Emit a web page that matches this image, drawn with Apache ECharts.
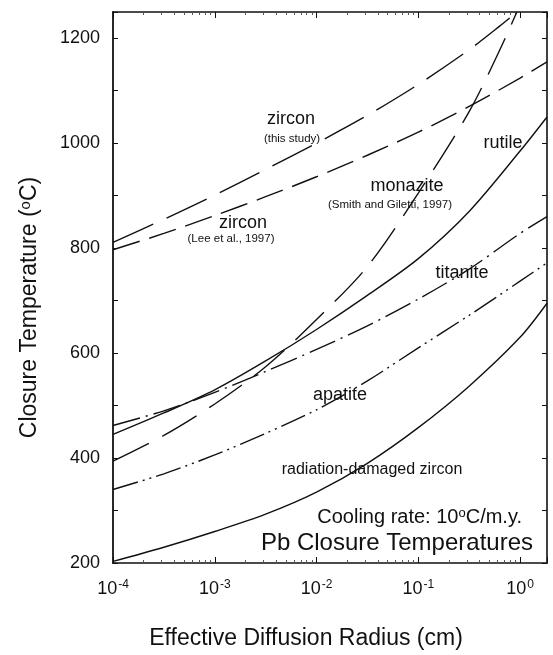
<!DOCTYPE html>
<html>
<head>
<meta charset="utf-8">
<script src="https://cdn.jsdelivr.net/npm/echarts@6/dist/echarts.min.js"></script>
<style>
html,body{margin:0;padding:0;background:#fff;}
#chart{width:553px;height:655px;}
</style>
</head>
<body>
<div id="chart"></div>
<script>
// ---- data (radius in cm, closure temperature in °C) ----
const radiusStd = [1e-4, 3.16e-4, 1e-3, 3.16e-3, 1e-2, 3.16e-2, 0.1, 0.316, 1, 1.84];
const radiusSteep = [1e-4, 3.16e-4, 1e-3, 3.16e-3, 1e-2, 3.16e-2, 0.1, 0.316, 0.63, 0.93];

const zirconThisStudy = [811, 855, 901, 950, 1000, 1053, 1112, 1178, 1223, 1250];
const monazite        = [394, 443, 503, 574, 664, 765, 905, 1060, 1177, 1250];
const zirconLee       = [797, 828, 862, 898, 936, 977, 1021, 1070, 1124, 1155];
const rutile          = [445, 486, 530, 585, 645, 710, 780, 870, 985, 1050];
const titanite        = [462, 490, 525, 565, 607, 652, 703, 760, 828, 860];
const apatite         = [340, 370, 406, 447, 492, 547, 610, 672, 737, 772];
const radZircon       = [203, 230, 260, 293, 335, 390, 458, 537, 630, 695];

const yTicks = [200, 400, 600, 800, 1000, 1200];

function pairs(xs, ys) { return xs.map((x, i) => [x, ys[i]]); }

const FONT = 'Liberation Sans, Arial, Helvetica, sans-serif';
const chart = echarts.init(document.getElementById('chart'), null, {renderer: 'canvas'});

function lineSeries(name, xs, ys, dash) {
  return {
    name: name, type: 'line', data: pairs(xs, ys), smooth: 0.3,
    symbol: 'none', clip: true,
    lineStyle: {color: '#111', width: 1.4, type: dash}
  };
}

const supRich = {
  m: {fontSize: 18, fontFamily: FONT, color: '#111'},
  s: {fontSize: 12, fontFamily: FONT, color: '#111', verticalAlign: 'top', padding: [0, 0, 8, 1]}
};

const option = {
  animation: false,
  backgroundColor: '#fff',
  grid: {left: 113, right: 6, top: 12, bottom: 90},
  xAxis: [{
    type: 'log', logBase: 10, min: 1e-4, max: 1.84, position: 'bottom',
    axisLine: {show: true, lineStyle: {color: '#111', width: 1.6}},
    axisTick: {show: true, inside: true, length: 6, lineStyle: {color: '#111'}},
    minorTick: {show: true, splitNumber: 9, length: 3, lineStyle: {color: '#555'}},
    splitLine: {show: false},
    axisLabel: {
      margin: 16, color: '#111',
      formatter: function (v) {
        const n = Math.round(Math.log10(v));
        if (Math.abs(v / Math.pow(10, n) - 1) > 1e-6) return '';
        return '{m|10}{s|' + n + '}';
      },
      rich: supRich
    },
    name: 'Effective Diffusion Radius (cm)',
    nameLocation: 'middle', nameGap: 64,
    nameTextStyle: {fontFamily: FONT, fontSize: 23, color: '#111', padding: [0, 48, 0, 0]}
  }, {
    type: 'log', logBase: 10, min: 1e-4, max: 1.84, position: 'top',
    axisLine: {show: true, lineStyle: {color: '#111', width: 1.6}},
    axisTick: {show: true, inside: true, length: 6, lineStyle: {color: '#111'}},
    minorTick: {show: true, splitNumber: 9, length: 3, lineStyle: {color: '#555'}},
    splitLine: {show: false},
    axisLabel: {show: false}
  }],
  yAxis: [{
    type: 'value', min: 200, max: 1250, interval: 100, position: 'left',
    axisLine: {show: true, lineStyle: {color: '#111', width: 1.8}},
    axisTick: {show: true, inside: true, length: 5, lineStyle: {color: '#111'}},
    splitLine: {show: false},
    axisLabel: {
      margin: 13, color: '#111', fontFamily: FONT, fontSize: 18,
      formatter: function (v) { return yTicks.indexOf(v) >= 0 ? String(v) : ''; }
    },
    name: 'Closure Temperature ({s|o}C)',
    nameLocation: 'middle', nameGap: 72, nameRotate: 90,
    nameTextStyle: {
      fontFamily: FONT, fontSize: 23, color: '#111', padding: [0, 40, 0, 0],
      rich: {s: {fontFamily: FONT, fontSize: 15, color: '#111', verticalAlign: 'top', padding: [0, 0, 8, 0]}}
    }
  }, {
    type: 'value', min: 200, max: 1250, interval: 100, position: 'right',
    axisLine: {show: true, lineStyle: {color: '#111', width: 1.6}},
    axisTick: {show: true, inside: true, length: 5, lineStyle: {color: '#111'}},
    splitLine: {show: false},
    axisLabel: {show: false}
  }],
  series: [
    lineSeries('zircon (this study)', radiusSteep, zirconThisStudy, [44, 15]),
    lineSeries('monazite', radiusSteep, monazite, [40, 15]),
    lineSeries('zircon (Lee et al., 1997)', radiusStd, zirconLee, [28, 10]),
    lineSeries('rutile', radiusStd, rutile, 'solid'),
    lineSeries('titanite', radiusStd, titanite, [28, 6, 2, 6]),
    lineSeries('apatite', radiusStd, apatite, [26, 5, 2, 5, 2, 5]),
    lineSeries('radiation-damaged zircon', radiusStd, radZircon, 'solid')
  ],
  graphic: [
    {type: 'text', x: 291, y: 119, style: {text: 'zircon', font: '18px ' + FONT, fill: '#111', align: 'center', verticalAlign: 'middle'}},
    {type: 'text', x: 292, y: 139, style: {text: '(this study)', font: '11.5px ' + FONT, fill: '#111', align: 'center', verticalAlign: 'middle'}},
    {type: 'text', x: 243, y: 223, style: {text: 'zircon', font: '18px ' + FONT, fill: '#111', align: 'center', verticalAlign: 'middle'}},
    {type: 'text', x: 231, y: 239, style: {text: '(Lee et al., 1997)', font: '11.5px ' + FONT, fill: '#111', align: 'center', verticalAlign: 'middle'}},
    {type: 'text', x: 407, y: 186, style: {text: 'monazite', font: '18px ' + FONT, fill: '#111', align: 'center', verticalAlign: 'middle'}},
    {type: 'text', x: 390, y: 205, style: {text: '(Smith and Giletti, 1997)', font: '11.5px ' + FONT, fill: '#111', align: 'center', verticalAlign: 'middle'}},
    {type: 'text', x: 503, y: 143, style: {text: 'rutile', font: '18px ' + FONT, fill: '#111', align: 'center', verticalAlign: 'middle'}},
    {type: 'text', x: 462, y: 273, style: {text: 'titanite', font: '18px ' + FONT, fill: '#111', align: 'center', verticalAlign: 'middle'}},
    {type: 'text', x: 340, y: 395, style: {text: 'apatite', font: '18px ' + FONT, fill: '#111', align: 'center', verticalAlign: 'middle'}},
    {type: 'text', x: 372, y: 470, style: {text: 'radiation-damaged zircon', font: '16px ' + FONT, fill: '#111', align: 'center', verticalAlign: 'middle'}},
    {type: 'text', x: 522, y: 517, style: {
      text: 'Cooling rate: 10{s|o}C/m.y.', font: '20px ' + FONT, fill: '#111', align: 'right', verticalAlign: 'middle',
      rich: {s: {fontFamily: FONT, fontSize: 13, fill: '#111', verticalAlign: 'top', padding: [0, 0, 6, 0]}}
    }},
    {type: 'text', x: 533, y: 543, style: {text: 'Pb Closure Temperatures', font: '24px ' + FONT, fill: '#111', align: 'right', verticalAlign: 'middle'}}
  ]
};
chart.setOption(option);
</script>
</body>
</html>
